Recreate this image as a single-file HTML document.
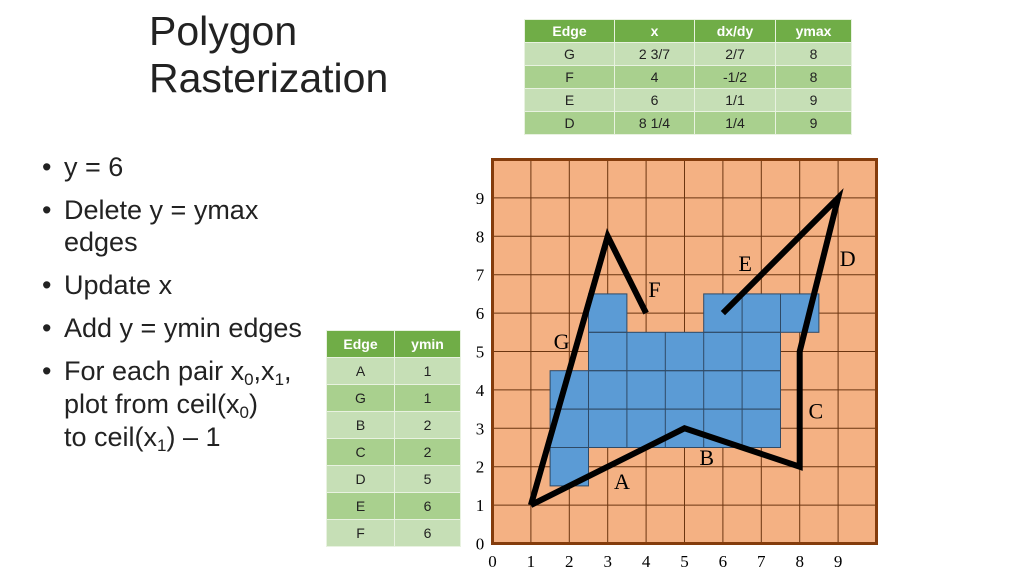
<!DOCTYPE html>
<html><head><meta charset="utf-8"><style>
body{margin:0;width:1024px;height:576px;background:#fff;position:relative;overflow:hidden;font-family:"Liberation Sans",sans-serif}
.title{position:absolute;left:149px;top:8px;font-size:41px;line-height:47px;color:#222}
.bul{position:absolute;left:42px;font-size:27px;line-height:32px;color:#222;white-space:nowrap}
.bul span.d{position:absolute;left:0}
.bul .t{margin-left:22px;display:block}
sub{font-size:17px;line-height:0;vertical-align:-5px}
table{position:absolute;border-collapse:collapse;font-size:14px;color:#222;text-align:center}
td,th{border:1px solid #e8f2e0;padding:0}
th{background:#70ad47;color:#fff;font-weight:bold}
td{background:#c6dfb6}
tr.alt td{background:#a9d08e}
</style></head><body>
<div class="title">Polygon<br>Rasterization</div>
<div>
<div class="bul" style="top:151px"><span class="d">•</span><span class="t">y = 6</span></div>
<div class="bul" style="top:194px"><span class="d">•</span><span class="t">Delete y = ymax<br>edges</span></div>
<div class="bul" style="top:269px"><span class="d">•</span><span class="t">Update x</span></div>
<div class="bul" style="top:312px"><span class="d">•</span><span class="t">Add y = ymin edges</span></div>
<div class="bul" style="top:355px;line-height:33px"><span class="d">•</span><span class="t">For each pair x<sub>0</sub>,x<sub>1</sub>,<br>plot from ceil(x<sub>0</sub>)<br>to ceil(x<sub>1</sub>) – 1</span></div>
</div>
<table style="left:524px;top:19px;width:328px">
<tr style="height:23px"><th style="width:89px">Edge</th><th style="width:79px">x</th><th style="width:80px">dx/dy</th><th>ymax</th></tr>
<tr style="height:23px"><td>G</td><td>2 3/7</td><td>2/7</td><td>8</td></tr>
<tr class="alt" style="height:23px"><td>F</td><td>4</td><td>-1/2</td><td>8</td></tr>
<tr style="height:23px"><td>E</td><td>6</td><td>1/1</td><td>9</td></tr>
<tr class="alt" style="height:23px"><td>D</td><td>8 1/4</td><td>1/4</td><td>9</td></tr>
</table>
<table style="left:326px;top:330px;width:135px">
<tr style="height:27px"><th style="width:67px">Edge</th><th>ymin</th></tr>
<tr style="height:27px"><td>A</td><td>1</td></tr>
<tr class="alt" style="height:27px"><td>G</td><td>1</td></tr>
<tr style="height:27px"><td>B</td><td>2</td></tr>
<tr class="alt" style="height:27px"><td>C</td><td>2</td></tr>
<tr style="height:27px"><td>D</td><td>5</td></tr>
<tr class="alt" style="height:27px"><td>E</td><td>6</td></tr>
<tr style="height:27px"><td>F</td><td>6</td></tr>
</table>
<svg id="g" width="1024" height="576" style="position:absolute;left:0;top:0"></svg>
<script>
const xTicks=[0,1,2,3,4,5,6,7,8,9];
const yTicks=[0,1,2,3,4,5,6,7,8,9];
const blueRows=[2,3,4,5,6,6];
const blueX0=[1.5,1.5,1.5,2.5,2.5,5.5];
const blueX1=[2.5,7.5,7.5,7.5,3.5,8.5];
const polyX=[1,3,4];
const polyY=[1,8,6];
const poly2X=[1,5,8,8,9,6];
const poly2Y=[1,3,2,5,9,6];
const edgeLabels=['A','B','C','D','E','F','G'];
const labelX=[3.37,5.58,8.42,9.25,6.58,4.22,1.8];
const labelY=[1.63,2.25,3.47,7.43,7.3,6.63,5.27];
const NS='http://www.w3.org/2000/svg';
const svg=document.getElementById('g');
const sx=v=>492.5+v*38.4, sy=v=>543.5-v*38.4;
function mk(t,a){const e=document.createElementNS(NS,t);for(const k in a)e.setAttribute(k,a[k]);svg.appendChild(e);return e;}
let bg=mk('rect',{x:sx(0),y:sy(10),width:sx(10)-sx(0),height:sy(0)-sy(10),fill:'#f4b183'});


for(let i=1;i<10;i++){
mk('line',{x1:sx(i),x2:sx(i),y1:sy(10),y2:sy(0),stroke:'#6b3510','stroke-width':1});
mk('line',{x1:sx(0),x2:sx(10),y1:sy(i),y2:sy(i),stroke:'#6b3510','stroke-width':1});
}
blueRows.forEach((r,i)=>{const e=mk('rect',{x:sx(blueX0[i]),y:sy(r+0.5),width:sx(blueX1[i])-sx(blueX0[i]),height:38.4,fill:'#5b9bd5'});


});
blueRows.forEach((r,i)=>{
for(let x=blueX0[i]+1;x<blueX1[i];x++){mk('line',{x1:sx(x),x2:sx(x),y1:sy(r+0.5),y2:sy(r-0.5),stroke:'#2f4a66','stroke-width':1});}
mk('rect',{x:sx(blueX0[i]),y:sy(r+0.5),width:sx(blueX1[i])-sx(blueX0[i]),height:38.4,fill:'none',stroke:'#2f4a66','stroke-width':1});
});
mk('rect',{x:sx(0),y:sy(10),width:sx(10)-sx(0),height:sy(0)-sy(10),fill:'none',stroke:'#843c0c','stroke-width':3});
xTicks.forEach(v=>{const t=mk('text',{x:sx(v),y:567,'text-anchor':'middle','font-family':'Liberation Serif','font-size':17});t.textContent=v;

});
yTicks.forEach(v=>{const t=mk('text',{x:480,y:sy(v)+6,'text-anchor':'middle','font-family':'Liberation Serif','font-size':17});t.textContent=v;

});
let p1=mk('polyline',{points:polyX.map((x,i)=>sx(x)+','+sy(polyY[i])).join(' '),fill:'none',stroke:'#000','stroke-width':6,'stroke-linejoin':'miter'});


let p2=mk('polyline',{points:poly2X.map((x,i)=>sx(x)+','+sy(poly2Y[i])).join(' '),fill:'none',stroke:'#000','stroke-width':6,'stroke-linejoin':'miter'});


edgeLabels.forEach((l,i)=>{const t=mk('text',{x:sx(labelX[i]),y:sy(labelY[i])+8,'text-anchor':'middle','font-family':'Liberation Serif','font-size':22});t.textContent=l;

});
</script>
</body></html>
